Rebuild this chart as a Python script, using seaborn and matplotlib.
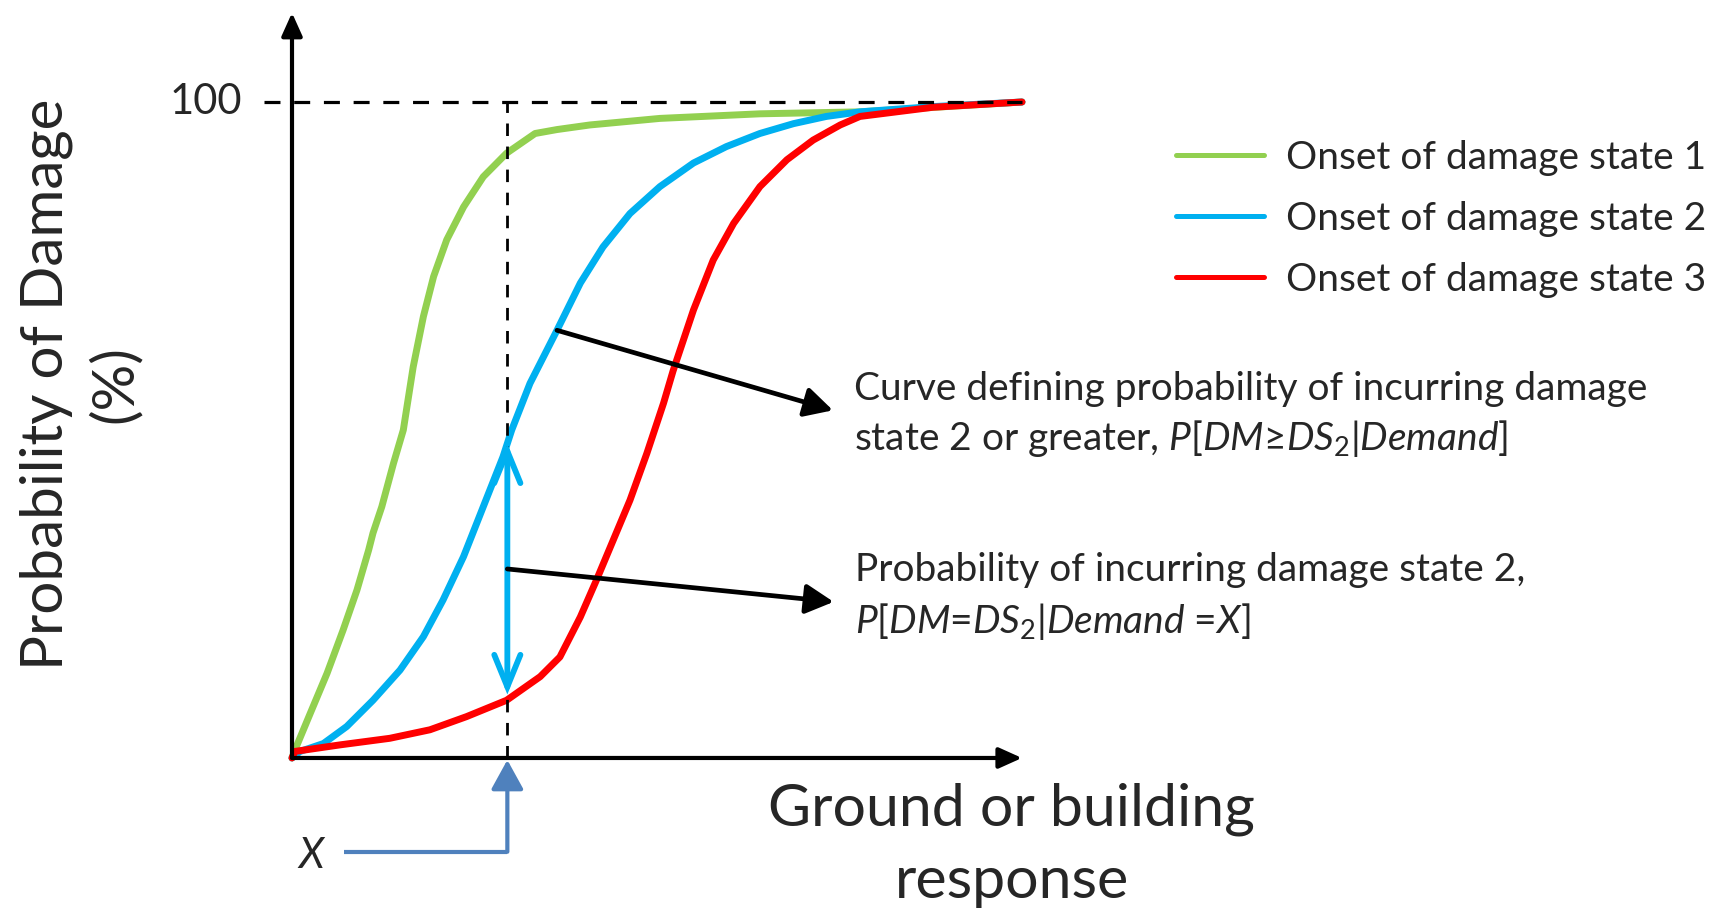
import numpy as np
import pandas as pd
import matplotlib
matplotlib.use("Agg")
import matplotlib.pyplot as plt
import seaborn as sns

# fragility curves: response (0-10, arbitrary) vs probability (%)
ds1_x = [0, 0.04, 0.25, 0.48, 0.70, 0.89, 1.05, 1.11, 1.23, 1.39, 1.525, 1.66, 1.80, 1.94,
         2.12, 2.35, 2.62, 2.94, 3.33, 3.63, 4.08, 5.04, 6.41, 7.78, 10]
ds1_p = [0, 1.2, 6.8, 12.9, 19.5, 25.6, 31.7, 34.3, 38.3, 44.9, 50.0, 59.6, 67.3, 73.4,
         79.0, 84.0, 88.6, 92.2, 95.2, 95.8, 96.5, 97.5, 98.2, 98.5, 100]

ds2_x = [0, 0.11, 0.43, 0.75, 1.11, 1.48, 1.80, 2.07, 2.35, 2.62, 2.89, 3.01, 3.26, 3.63,
         3.95, 4.26, 4.63, 5.04, 5.50, 5.95, 6.41, 6.87, 7.32, 7.78, 8.78, 10]
ds2_p = [0, 1.0, 2.2, 4.8, 8.8, 13.4, 18.5, 24.1, 30.7, 38.3, 45.9, 50.0, 57.1, 65.2,
         72.4, 77.9, 83.0, 87.1, 90.7, 93.2, 95.2, 96.7, 97.8, 98.5, 99.3, 100]

ds3_x = [0, 0.04, 0.66, 1.34, 1.89, 2.39, 2.94, 3.40, 3.67, 3.95, 4.17, 4.40, 4.63, 4.86,
         5.09, 5.22, 5.50, 5.77, 6.05, 6.41, 6.78, 7.14, 7.51, 7.78, 8.78, 10]
ds3_p = [0, 1.0, 2.0, 3.0, 4.3, 6.3, 8.8, 12.4, 15.4, 21.5, 27.1, 33.2, 39.3, 46.4,
         54.1, 59.0, 68.3, 75.9, 81.5, 87.1, 91.2, 94.2, 96.5, 97.8, 99.2, 100]

states = ["Onset of damage state 1", "Onset of damage state 2", "Onset of damage state 3"]
colors = ["#92D050", "#00B0F0", "#FF0000"]

demand_x = 2.95   # the X marked on the response axis
x_max = 10
p_top = 113.6     # tip of the vertical axis arrow

df = pd.concat([
    pd.DataFrame({"response": ds1_x, "prob": ds1_p, "state": states[0]}),
    pd.DataFrame({"response": ds2_x, "prob": ds2_p, "state": states[1]}),
    pd.DataFrame({"response": ds3_x, "prob": ds3_p, "state": states[2]}),
])

sns.set_style("white")
plt.rcParams["font.family"] = ["Lato", "DejaVu Sans"]
plt.rcParams["mathtext.fontset"] = "custom"
plt.rcParams["mathtext.rm"] = "Lato"
plt.rcParams["mathtext.it"] = "Lato:italic"
plt.rcParams["mathtext.bf"] = "Lato:bold"

fig = plt.figure(figsize=(17.23, 9.08), dpi=100)
ax = fig.add_axes([0, 0, 1, 1])
ax.set_xlim(-4.0, 19.603)
ax.set_ylim(-22.87, 115.55)
ax.axis("off")

sns.lineplot(data=df, x="response", y="prob", hue="state", palette=colors,
             linewidth=5.0, estimator=None, sort=False, legend=False, ax=ax, zorder=2)
for ln in ax.lines:
    ln.set_solid_capstyle("round")
    ln.set_solid_joinstyle("round")

leg = ax.legend(ax.lines[:3], states, loc="upper left", bbox_to_anchor=(0.6825, 0.846),
                bbox_transform=fig.transFigure, frameon=False, fontsize=28,
                handlelength=2.26, handletextpad=0.57, labelspacing=0.64,
                borderpad=0, borderaxespad=0)
for h in leg.legend_handles:
    h.set_linewidth(3.6)

# axes drawn as arrows
ax_arrow = dict(arrowstyle="-|>,head_length=1.0,head_width=0.45", color="black",
                lw=3, mutation_scale=14, shrinkA=0, shrinkB=0)
ax.annotate("", xy=(0, p_top), xytext=(0, 0), arrowprops=ax_arrow)
ax.annotate("", xy=(x_max, 0), xytext=(0, 0), arrowprops=ax_arrow)

# guide lines at 100% and at X
ax.plot([-0.38, x_max], [100, 100], color="black", lw=2.3, ls=(0, (5, 4.3)),
        dash_capstyle="butt", zorder=3)
ax.plot([demand_x, demand_x], [0, 100], color="black", lw=2.0, ls=(0, (4.5, 3.8)),
        dash_capstyle="butt", zorder=3)
ax.text(-0.68, 100, "100", ha="right", va="center", fontsize=30)

# double arrow between the curves at X
p_lo = np.interp(demand_x, ds3_x, ds3_p) + 0.8
p_hi = np.interp(demand_x, ds2_x, ds2_p)
ax.annotate("", xy=(demand_x, p_hi), xytext=(demand_x, p_lo),
            arrowprops=dict(arrowstyle="<->,head_length=1.15,head_width=0.47", color="#00B0F0",
                            lw=4.2, mutation_scale=20, shrinkA=0, shrinkB=0,
                            capstyle="round", joinstyle="miter"), zorder=4)

# pointers to the notes
note_x = 7.70
pt_arrow = dict(arrowstyle="-|>,head_length=0.85,head_width=0.45", color="black",
                lw=3.4, mutation_scale=20, shrinkA=0, shrinkB=0)
src1 = (3.63, np.interp(3.63, ds2_x, ds2_p))
ax.annotate("", xy=(7.41, 53.0), xytext=src1, arrowprops=pt_arrow, zorder=5)
ax.annotate("", xy=(7.42, 23.8), xytext=(demand_x, (p_lo + p_hi) / 2), arrowprops=pt_arrow, zorder=5)

ax.text(note_x, 54.6, "Curve defining probability of incurring damage", fontsize=28, va="baseline")
ax.text(note_x, 47.0, r"state 2 or greater, $P$[$DM$≥$DS_2$|$Demand$]", fontsize=28, va="baseline")
ax.text(note_x + 0.01, 27.0, "Probability of incurring damage state 2,", fontsize=28, va="baseline")
ax.text(note_x + 0.01, 19.1, r"$P$[$DM$=$DS_2$|$Demand$ =$X$]", fontsize=28, va="baseline")

# X marker below the axis
ax.plot([0.71, demand_x], [-14.3, -14.3], color="#4F81BD", lw=3, solid_capstyle="butt", zorder=3)
ax.annotate("", xy=(demand_x, -0.3), xytext=(demand_x, -14.3),
            arrowprops=dict(arrowstyle="-|>,head_length=1.0,head_width=0.55", color="#4F81BD",
                            lw=3, mutation_scale=18, shrinkA=0, shrinkB=0))
ax.text(0.26, -14.95, "X", fontsize=30, style="italic", ha="center", va="center")

# axis titles
ax.text(-2.90, 57.0, "Probability of Damage\n(%)", rotation=90, ha="center", va="center",
        multialignment="center", fontsize=42, linespacing=1.35)
ax.text(9.86, -13.3, "Ground or building\nresponse", ha="center", va="center",
        multialignment="center", fontsize=42.5, linespacing=1.42)

fig.savefig("out.png", dpi=100)
